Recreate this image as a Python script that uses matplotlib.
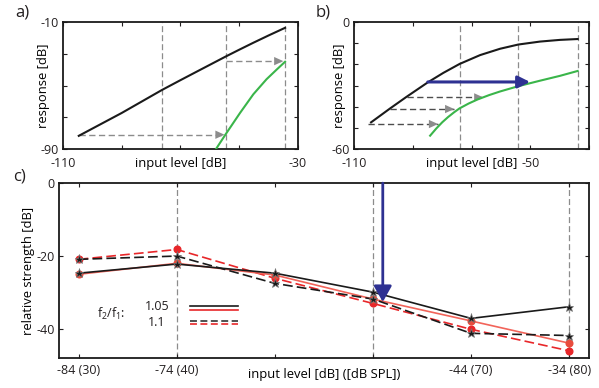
"""Compression / suppression sketch: two I/O panels and the f2/f1 strength plot."""

import matplotlib

matplotlib.use("Agg")
import matplotlib.pyplot as plt

plt.rcParams["font.family"] = ["Open Sans", "DejaVu Sans"]
plt.rcParams["lines.scale_dashes"] = False
plt.rcParams["text.color"] = "#231f20"
plt.rcParams["xtick.color"] = "#231f20"
plt.rcParams["ytick.color"] = "#231f20"

# ---- panel a: input/output curves ----
a_black_x = [-104.6, -90, -76.3, -70, -63.4, -54.5, -50, -45.3, -40, -34.4]
a_black_y = [-81.7, -67.3, -52.8, -46.6, -40.2, -31.6, -27.4, -23.1, -18.4, -13.6]
a_green_x = [-57.9, -54.4, -49.7, -45.2, -40.7, -37.3, -34.4]
a_green_y = [-90.0, -80.1, -67.2, -55.5, -46.0, -40.0, -35.0]
a_vlines = [-76.3, -54.5, -34.4]
a_arrow_start = [-104.6, -54.5]
a_arrow_end = [-55.0, -35.0]
a_arrow_y = [-81.0, -34.6]

# ---- panel b ----
b_black_x = [-104.2, -97.7, -92.1, -84.9, -79.6, -74.1, -67.1, -60.3, -54.1, -46.7, -39.9, -33.9]
b_black_y = [-47.4, -40.8, -35.3, -28.5, -24.0, -19.8, -15.6, -12.6, -10.6, -9.2, -8.4, -8.0]
b_green_x = [-84.1, -82, -80, -78, -76, -74.1, -71, -68, -64, -60.3, -54.1, -46.7, -39.9, -33.9]
b_green_y = [-53.7, -50.3, -47.4, -44.9, -42.7, -40.8, -38.5, -36.6, -34.5, -32.8, -30.3,
             -27.7, -25.4, -23.1]
b_vlines = [-74.1, -54.1, -33.9]
b_arrow_start = [-92.1, -97.7, -105.2]
b_arrow_end = [-66.0, -75.9, -81.4]
b_arrow_y = [-35.6, -41.1, -48.2]
b_blue_start, b_blue_end, b_blue_y = -84.9, -50.1, -28.3

# ---- panel c: relative strength vs level ----
c_levels = [-84, -74, -64, -54, -44, -34]
c_ticklabels = ["-84 (30)", "-74 (40)", "", "", "-44 (70)", "-34 (80)"]
c_black_105 = [-24.7, -22.2, -24.7, -29.9, -37.1, -33.9]
c_red_105 = [-25.0, -22.0, -25.2, -31.8, -37.8, -43.9]
c_black_11 = [-20.9, -20.0, -27.5, -31.8, -41.2, -41.8]
c_red_11 = [-20.9, -18.2, -26.1, -33.0, -40.1, -46.0]
c_vlines = [-74, -54, -34]
c_blue_x, c_blue_top, c_blue_tip = -53.0, 0.0, -32.6

BLACK = "#1a1a1a"
GREEN = "#3ab54a"
GRAY = "#8c8c8c"
NAVY = "#2e3192"
RED = "#e8272a"
SALMON = "#f2645a"
VDASH = (4.3, 2.2)
LABEL_FS = 9.4


def style_axes(ax, labelsize=9):
    for s in ax.spines.values():
        s.set_linewidth(1.3)
        s.set_color(BLACK)
    ax.tick_params(direction="in", length=3, width=0.8, top=True, right=True,
                   labelsize=labelsize, pad=3)


def gray_arrow(ax, x0, x1, y, line_color, head_color):
    ax.plot([x0, x1], [y, y], color=line_color, lw=1.0, dashes=(4.5, 2.5), zorder=2)
    ax.annotate("", xy=(x1, y), xytext=(x1 - 1, y),
                arrowprops=dict(arrowstyle="-|>,head_length=0.55,head_width=0.25",
                                color=head_color, lw=0, shrinkA=0, shrinkB=0,
                                mutation_scale=12), zorder=3)


def set_labels(ax, xlabel, ylabel, xy, yx):
    ax.set_xlabel(xlabel, fontsize=LABEL_FS)
    ax.xaxis.set_label_coords(0.5, xy)
    ax.xaxis.label.set_va("center")
    ax.set_ylabel(ylabel, fontsize=LABEL_FS)
    ax.yaxis.set_label_coords(yx, 0.5)
    ax.yaxis.label.set_va("center")


fig = plt.figure(figsize=(5.99, 3.88), dpi=100)

# panel a
ax_a = fig.add_axes([0.105, 0.616, 0.3925, 0.327])
for v in a_vlines:
    ax_a.axvline(v, color=GRAY, lw=0.9, dashes=VDASH, zorder=1)
for x0, x1, y in zip(a_arrow_start, a_arrow_end, a_arrow_y):
    gray_arrow(ax_a, x0, x1, y, GRAY, GRAY)
ax_a.plot(a_black_x, a_black_y, color=BLACK, lw=1.5, zorder=4)
ax_a.plot(a_green_x, a_green_y, color=GREEN, lw=1.5, zorder=4)
ax_a.set_xlim(-110, -30)
ax_a.set_ylim(-90, -10)
ax_a.set_xticks([-110, -90, -70, -50, -30])
ax_a.set_xticklabels(["-110", "", "", "", "-30"])
ax_a.set_yticks([-90, -70, -50, -30, -10])
ax_a.set_yticklabels(["-90", "", "", "", "-10"])
style_axes(ax_a)
ax_a.tick_params(axis="x", pad=5.5)
set_labels(ax_a, "input level [dB]", "response [dB]", -0.118, -0.081)

# panel b
ax_b = fig.add_axes([0.591, 0.616, 0.3925, 0.327])
for v in b_vlines:
    ax_b.axvline(v, color=GRAY, lw=0.9, dashes=VDASH, zorder=1)
for x0, x1, y in zip(b_arrow_start, b_arrow_end, b_arrow_y):
    gray_arrow(ax_b, x0, x1, y, "#4d4d4d", GRAY)
ax_b.plot(b_black_x, b_black_y, color=BLACK, lw=1.5, zorder=4)
ax_b.plot(b_green_x, b_green_y, color=GREEN, lw=1.5, zorder=4)
ax_b.annotate("", xy=(b_blue_end, b_blue_y), xytext=(b_blue_start, b_blue_y),
              arrowprops=dict(arrowstyle="-|>,head_length=0.6,head_width=0.3",
                              color=NAVY, lw=2.2, shrinkA=0, shrinkB=0,
                              mutation_scale=12), zorder=5)
ax_b.set_xlim(-110, -30)
ax_b.set_ylim(-60, 0)
ax_b.set_xticks([-110, -90, -70, -50, -30])
ax_b.set_xticklabels(["-110", "", "", "-50", ""])
ax_b.set_yticks([-60, -50, -40, -30, -20, -10, 0])
ax_b.set_yticklabels(["-60", "", "", "", "", "", "0"])
style_axes(ax_b)
ax_b.tick_params(axis="x", pad=5.5)
set_labels(ax_b, "input level [dB]", "response [dB]", -0.118, -0.06)

# panel c
ax_c = fig.add_axes([0.0985, 0.077, 0.8845, 0.451])
for v in c_vlines:
    ax_c.axvline(v, color=GRAY, lw=0.9, dashes=VDASH, zorder=1)
ax_c.plot(c_levels, c_red_11, color=RED, lw=1.2, dashes=(7, 3), marker="o", ms=4.8,
          mec=RED, mfc=RED, zorder=2)
ax_c.plot(c_levels, c_red_105, color=SALMON, lw=1.2, marker="o", ms=4.8,
          mec="#e84c3d", mfc="#e84c3d", zorder=2)
ax_c.plot(c_levels, c_black_11, color=BLACK, lw=1.2, dashes=(7, 3), marker="*", ms=6.5,
          mec="#777777", mfc=BLACK, mew=0.5, zorder=3)
ax_c.plot(c_levels, c_black_105, color=BLACK, lw=1.2, marker="*", ms=6.5,
          mec="#777777", mfc=BLACK, mew=0.5, zorder=3)
ax_c.annotate("", xy=(c_blue_x, c_blue_tip), xytext=(c_blue_x, c_blue_top),
              arrowprops=dict(arrowstyle="-|>,head_length=0.8,head_width=0.45",
                              color=NAVY, lw=2.0, shrinkA=0, shrinkB=0,
                              mutation_scale=12), zorder=5)
ax_c.set_xlim(-86, -32)
ax_c.set_ylim(-48, 0)
ax_c.set_xticks(c_levels)
ax_c.set_xticklabels(c_ticklabels)
ax_c.set_yticks([-40, -20, 0])
ax_c.set_yticklabels(["-40", "-20", "0"])
style_axes(ax_c)
ax_c.tick_params(axis="x", pad=4)
set_labels(ax_c, "input level [dB] ([dB SPL])", "relative strength [dB]", -0.091, -0.058)

# hand-made key: f2/f1 ratio vs line style
tr = ax_c.transAxes
ax_c.text(0.098, 0.251, r"$\mathregular{f_2/f_1}$:", transform=tr, fontsize=9,
          ha="center", va="center")
ax_c.text(0.185, 0.297, "1.05", transform=tr, fontsize=9, ha="center", va="center")
ax_c.text(0.185, 0.206, "1.1", transform=tr, fontsize=9, ha="center", va="center")
ax_c.plot([0.247, 0.338], [0.299, 0.299], transform=tr, color=BLACK, lw=1.2)
ax_c.plot([0.247, 0.338], [0.276, 0.276], transform=tr, color=RED, lw=1.2)
ax_c.plot([0.247, 0.338], [0.211, 0.211], transform=tr, color="#333333", lw=1.2,
          dashes=(5, 2.5))
ax_c.plot([0.247, 0.338], [0.193, 0.193], transform=tr, color=RED, lw=1.2,
          dashes=(5, 2.5))

fig.text(0.037, 0.969, "a)", fontsize=12, ha="center", va="center")
fig.text(0.539, 0.969, "b)", fontsize=12, ha="center", va="center")
fig.text(0.033, 0.544, "c)", fontsize=12, ha="center", va="center")

fig.savefig("out.png", dpi=100)
